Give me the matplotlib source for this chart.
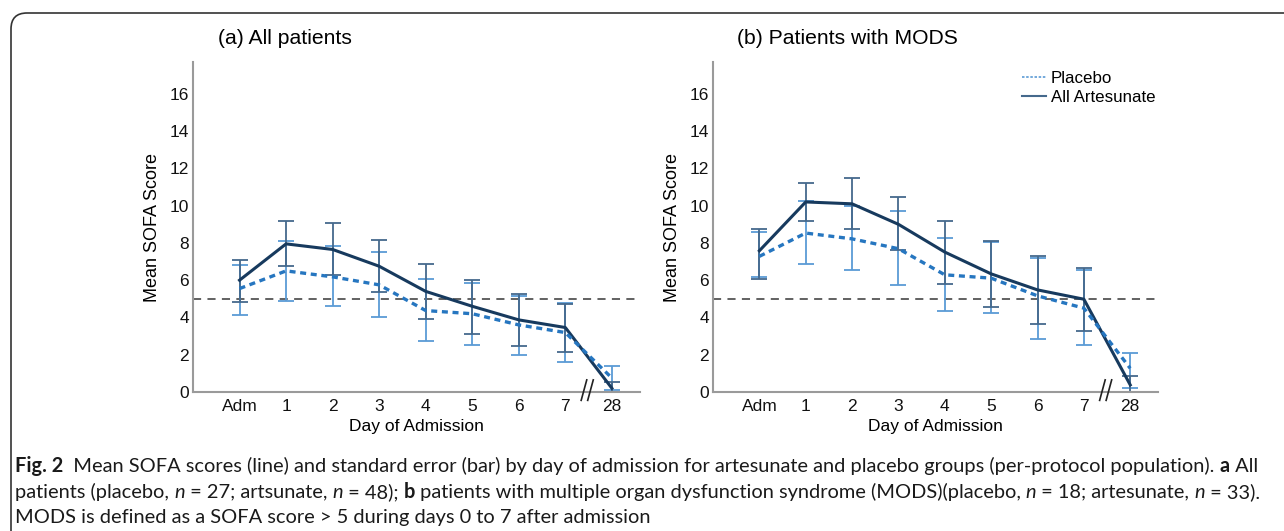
import numpy as np
import matplotlib
matplotlib.use("Agg")
import matplotlib.pyplot as plt
from matplotlib.path import Path
from matplotlib.patches import PathPatch

plt.rcParams['font.family'] = ['Liberation Sans', 'DejaVu Sans']

# ---- data ----
days = ['Adm', '1', '2', '3', '4', '5', '6', '7', '28']

# (a) all patients
art_a = [6.0, 7.95, 7.65, 6.75, 5.4, 4.6, 3.87, 3.46, 0.2]
art_a_lo = [4.85, 6.75, 6.3, 5.35, 3.92, 3.12, 2.47, 2.17, 0.0]
art_a_hi = [7.07, 9.2, 9.08, 8.14, 6.88, 5.99, 5.27, 4.73, 0.55]
plc_a = [5.55, 6.5, 6.18, 5.75, 4.37, 4.2, 3.6, 3.19, 0.75]
plc_a_lo = [4.14, 4.91, 4.59, 4.0, 2.74, 2.53, 1.99, 1.61, 0.1]
plc_a_hi = [6.83, 8.12, 7.81, 7.53, 6.04, 5.86, 5.16, 4.75, 1.4]

# (b) patients with MODS
art_b = [7.58, 10.2, 10.1, 9.0, 7.51, 6.34, 5.48, 4.98, 0.38]
art_b_lo = [6.09, 9.19, 8.74, 7.6, 5.8, 4.55, 3.66, 3.3, 0.0]
art_b_hi = [8.76, 11.2, 11.5, 10.45, 9.2, 8.08, 7.28, 6.65, 0.86]
plc_b = [7.28, 8.53, 8.22, 7.69, 6.29, 6.11, 5.16, 4.5, 1.27]
plc_b_lo = [6.17, 6.86, 6.53, 5.73, 4.35, 4.22, 2.87, 2.53, 0.2]
plc_b_hi = [8.57, 10.23, 9.96, 9.73, 8.24, 8.05, 7.18, 6.55, 2.11]

threshold = 5
yticks = [0, 2, 4, 6, 8, 10, 12, 14, 16]

art_col = '#173a5e'
art_err = '#45698c'
plc_col = '#2676c0'
plc_err = '#5b9bd5'

fig = plt.figure(figsize=(12.84, 5.31), dpi=100)

def panel(rect, title, art, art_lo, art_hi, plc, plc_lo, plc_hi, legend=False):
    ax = fig.add_axes(rect)
    x = np.arange(len(days))
    art = np.array(art); plc = np.array(plc)
    ax.axhline(threshold, color='#555555', lw=1.3, dashes=(4.5, 3.5), zorder=1)
    ax.errorbar(x, plc, yerr=[plc - np.array(plc_lo), np.array(plc_hi) - plc],
                fmt='none', ecolor=plc_err, elinewidth=1.3, capsize=5.5, capthick=1.3, zorder=2)
    ax.errorbar(x, art, yerr=[art - np.array(art_lo), np.array(art_hi) - art],
                fmt='none', ecolor=art_err, elinewidth=1.3, capsize=5.5, capthick=1.3, zorder=2)
    ax.plot(x, art, color=art_col, lw=2.2, zorder=3)
    ax.plot(x, plc, color=plc_col, lw=2.4, dashes=(1.8, 1.4), zorder=4)
    ax.set_xlim(-1, len(days) - 0.4)
    ax.set_ylim(0, 17.7)
    ax.set_xticks(x)
    ax.set_xticklabels(days)
    ax.set_yticks(yticks)
    ax.tick_params(length=0, labelsize=12.5, colors='#111111')
    ax.tick_params(axis='y', pad=3)
    ax.tick_params(axis='x', pad=5)
    for s in ['top', 'right']:
        ax.spines[s].set_visible(False)
    for s in ['left', 'bottom']:
        ax.spines[s].set_color('#9a9a9a')
        ax.spines[s].set_linewidth(1.5)
    ax.set_xlabel('Day of Admission', fontsize=12.5, labelpad=4)
    ax.set_ylabel('Mean SOFA Score', fontsize=13, labelpad=6)
    ax.text(0.055, 1.072, title, transform=ax.transAxes, fontsize=15.2, va='center', ha='left')
    # axis break between day 7 and day 28
    xb = len(days) - 1.53
    for dx in [-0.07, 0.07]:
        ax.plot([xb + dx - 0.06, xb + dx + 0.06], [-0.45, 0.65], color='#222222', lw=1.2,
                clip_on=False, zorder=5)
    if legend:
        h1, = ax.plot([], [], color='#5b9bd5', lw=1.2, ls=(0, (1.5, 1)))
        h2, = ax.plot([], [], color='#45698c', lw=1.5)
        ax.legend([h1, h2], ['Placebo', 'All Artesunate'], loc='upper left',
                  bbox_to_anchor=(0.675, 1.0), frameon=False, fontsize=12.2,
                  handlelength=1.45, handletextpad=0.25, labelspacing=0.25, borderpad=0)
    return ax

panel([0.1503, 0.2618, 0.348, 0.621], '(a) All patients',
      art_a, art_a_lo, art_a_hi, plc_a, plc_a_lo, plc_a_hi)
panel([0.5553, 0.2618, 0.3466, 0.621], '(b) Patients with MODS',
      art_b, art_b_lo, art_b_hi, plc_b, plc_b_lo, plc_b_hi, legend=True)

# ---- frame: top and left lines with a rounded corner ----
W, H = 1284, 531
r = 16
verts = [(11 / W, 0), (11 / W, (H - 13 - r) / H), (11 / W, (H - 13) / H),
         ((11 + r) / W, (H - 13) / H), (1, (H - 13) / H)]
codes = [Path.MOVETO, Path.LINETO, Path.CURVE3, Path.CURVE3, Path.LINETO]
fig.patches.append(PathPatch(Path(verts, codes), transform=fig.transFigure,
                             fill=False, ec='#333333', lw=1.2))

# ---- caption ----
cap_font = ['Lato', 'Liberation Sans', 'DejaVu Sans']

lines = [
    [('Fig. 2', 'bold', 'normal'),
     ('  Mean SOFA scores (line) and standard error (bar) by day of admission for artesunate and placebo groups (per-protocol population). ', 'normal', 'normal'),
     ('a', 'bold', 'normal'), (' All', 'normal', 'normal')],
    [('patients (placebo, ', 'normal', 'normal'), ('n', 'normal', 'italic'), (' = 27; artsunate, ', 'normal', 'normal'),
     ('n', 'normal', 'italic'), (' = 48); ', 'normal', 'normal'), ('b', 'bold', 'normal'),
     (' patients with multiple organ dysfunction syndrome (MODS)(placebo, ', 'normal', 'normal'),
     ('n', 'normal', 'italic'), (' = 18; artesunate, ', 'normal', 'normal'), ('n', 'normal', 'italic'),
     (' = 33).', 'normal', 'normal')],
    [('MODS is defined as a SOFA score > 5 during days 0 to 7 after admission', 'normal', 'normal')],
]
line_y = [1 - 466 / H, 1 - 492 / H, 1 - 517 / H]

renderer = fig.canvas.get_renderer()

def cap_text(x, y, s, wt, st, size, **kw):
    return fig.text(x, y, s, family=cap_font, weight=wt, style=st, fontsize=size, **kw)

def run_width(s, wt, st, size):
    t = cap_text(0, 0, s + '.', wt, st, size)
    d = cap_text(0, 0, '.', wt, st, size)
    w = t.get_window_extent(renderer).width - d.get_window_extent(renderer).width
    t.remove(); d.remove()
    return w

w10 = sum(run_width(s, wt, st, 10) for s, wt, st in lines[0])
cap_size = 10 * 1248 / w10

for runs, yy in zip(lines, line_y):
    xx = 15
    for s, wt, st in runs:
        cap_text(xx / W, yy, s, wt, st, cap_size, va='center', ha='left', color='#1a1a1a')
        xx += run_width(s, wt, st, cap_size)

fig.savefig('out.png', dpi=100)
